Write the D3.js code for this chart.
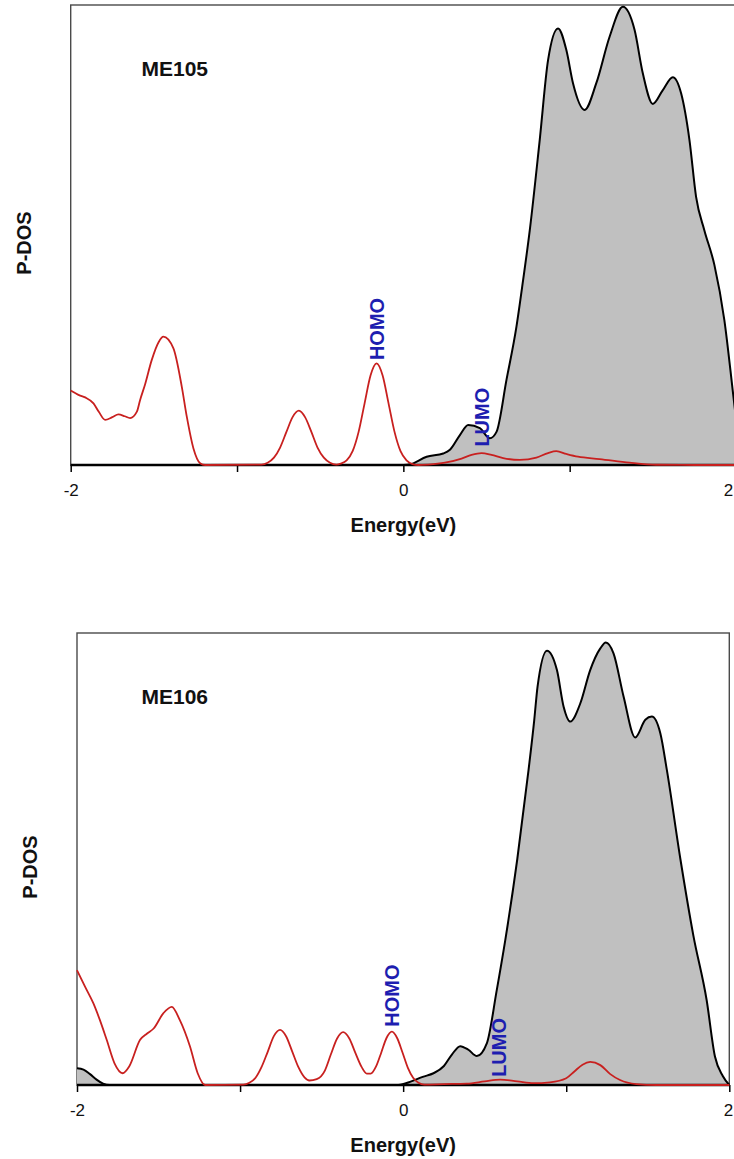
<!DOCTYPE html>
<html><head><meta charset="utf-8">
<script src="https://cdn.jsdelivr.net/npm/d3@7"></script>
<style>
body{margin:0;background:#fff}
svg{display:block}
text{font-family:"Liberation Sans",Arial,sans-serif}
</style>
</head><body>
<svg id="c" width="734" height="1159"></svg>
<script>
// ---------- data ----------
const xTicks = [-2, -1, 0, 1, 2];
const xTickLabels = ["-2", "", "0", "", "2"];
const xTitle = "Energy(eV)";
const yTitle = "P-DOS";
const panelNames = ["ME105", "ME106"];

// [energy (eV), P-DOS (arb.)]
const me105Total = [[0.00,0],[0.04,0.15],[0.14,1.8],[0.24,2.5],[0.28,3.3],[0.34,6.5],[0.39,8.7],[0.46,8.0],[0.52,5.8],[0.56,7.2],[0.62,18.5],[0.68,30.1],[0.72,40.2],[0.76,51],[0.82,70.7],[0.87,88],[0.93,94.9],[0.98,90.2],[1.02,83.0],[1.09,77.2],[1.16,83.0],[1.24,93.1],[1.32,99.6],[1.39,94.6],[1.44,85.1],[1.50,78.5],[1.56,81.5],[1.62,84.3],[1.67,80.8],[1.72,70.7],[1.76,58.3],[1.81,51],[1.87,43.5],[1.93,31.5],[1.98,16.3],[2.0,10]];

const me105Proj = [[-2.0,16.2],[-1.95,15.2],[-1.913,14.7],[-1.863,13.4],[-1.83,11.5],[-1.793,9.8],[-1.75,10.4],[-1.713,11.0],[-1.675,10.6],[-1.643,10.2],[-1.602,11.6],[-1.583,14.1],[-1.553,17.5],[-1.513,22.8],[-1.47,26.8],[-1.443,27.9],[-1.383,25.4],[-1.332,17.0],[-1.302,10.5],[-1.262,3.6],[-1.222,0.4],[-1.192,0],[-0.853,0.1],[-0.816,0.5],[-0.778,1.6],[-0.741,3.8],[-0.703,7.2],[-0.666,10.4],[-0.628,11.8],[-0.591,10.4],[-0.553,7.2],[-0.516,3.8],[-0.478,1.6],[-0.441,0.5],[-0.403,0.1],[-0.377,0.3],[-0.341,1.0],[-0.305,3.0],[-0.269,7.2],[-0.233,13.4],[-0.197,19.5],[-0.161,22.1],[-0.125,19.5],[-0.089,13.4],[-0.053,7.2],[-0.017,3.0],[0.019,1.0],[0.055,0.2],[0.09,0],[0.15,0.1],[0.25,0.5],[0.35,1.4],[0.41,2.2],[0.47,2.6],[0.53,2.2],[0.60,1.5],[0.70,1.1],[0.80,1.6],[0.87,2.6],[0.92,3.0],[0.98,2.4],[1.05,1.8],[1.18,1.3],[1.36,0.5],[1.52,0.05],[1.75,0],[2.0,0]];

const me106Total = [[-2.0,3.7],[-1.96,3.4],[-1.92,2.4],[-1.88,1.2],[-1.84,0.3],[-1.80,0],[-0.03,0],[0.05,0.8],[0.12,1.8],[0.186,2.6],[0.25,4.2],[0.30,6.8],[0.35,8.6],[0.40,7.8],[0.452,6.4],[0.513,9.2],[0.574,21],[0.626,32],[0.70,50],[0.769,69.7],[0.804,80.8],[0.824,88.1],[0.882,96.1],[0.943,91.8],[0.984,83.7],[1.025,80.4],[1.086,84.4],[1.147,91.8],[1.209,96.6],[1.243,97.9],[1.29,95.5],[1.352,85.9],[1.423,76.9],[1.485,80.8],[1.525,81.5],[1.577,77.8],[1.617,69.7],[1.70,50],[1.78,33],[1.861,18.8],[1.912,6.3],[1.96,2.0],[2.0,0]];

const me106Proj = [[-2.0,25.4],[-1.95,21.7],[-1.9,18.1],[-1.86,14.4],[-1.818,10.0],[-1.77,4.8],[-1.72,2.6],[-1.68,4.1],[-1.613,10.0],[-1.57,11.4],[-1.53,12.5],[-1.47,15.9],[-1.419,17.3],[-1.37,14.4],[-1.307,8.5],[-1.26,2.6],[-1.215,0],[-0.98,0.1],[-0.943,0.5],[-0.905,1.6],[-0.868,4.0],[-0.83,7.4],[-0.793,10.8],[-0.755,12.2],[-0.718,10.8],[-0.68,7.4],[-0.643,4.0],[-0.605,1.7],[-0.575,1.0],[-0.53,1.3],[-0.48,3.2],[-0.443,6.8],[-0.405,10.3],[-0.368,11.7],[-0.33,10.3],[-0.293,7.1],[-0.255,4.0],[-0.223,2.5],[-0.199,2.5],[-0.166,4.1],[-0.134,7.2],[-0.102,10.4],[-0.069,11.8],[-0.037,10.4],[-0.004,7.2],[0.029,3.8],[0.061,1.6],[0.094,0.5],[0.13,0.1],[0.25,0.2],[0.39,0.3],[0.50,0.8],[0.595,1.2],[0.70,0.8],[0.80,0.4],[0.90,0.6],[1.0,1.5],[1.05,3.0],[1.10,4.5],[1.147,5.1],[1.209,4.4],[1.27,2.4],[1.33,1.1],[1.43,0.2],[1.55,0],[2.0,0]];

// marker labels: [energy, level]
const me105Homo = [-0.161, 22.8], me105Lumo = [0.471, 4.0];
const me106Homo = [-0.069, 12.9], me106Lumo = [0.585, 1.8];

// ---------- drawing ----------
const W = 734;
const svg = d3.select("#c");
const panels = [
  {name: panelNames[0], total: me105Total, proj: me105Proj, homo: me105Homo, lumo: me105Lumo,
   box: {l: 70.7, r: 736, t: 5, b: 465}},
  {name: panelNames[1], total: me106Total, proj: me106Proj, homo: me106Homo, lumo: me106Lumo,
   box: {l: 77, r: 729.3, t: 633, b: 1085}}
];

panels.forEach(p => {
  const B = p.box;
  const x = d3.scaleLinear().domain([-2, 2]).range([B.l, B.r]);
  const y = d3.scaleLinear().domain([0, 100]).range([B.b, B.t]);
  const g = svg.append("g");

  // frame
  g.append("rect").attr("x", B.l).attr("y", B.t)
    .attr("width", B.r - B.l).attr("height", B.b - B.t)
    .attr("fill", "none").attr("stroke", "#4a4a4a").attr("stroke-width", 1.4);

  // total DOS filled
  const area = d3.area().x(d => x(d[0])).y0(y(0)).y1(d => y(d[1])).curve(d3.curveMonotoneX);
  g.append("path").datum(p.total).attr("d", area).attr("fill", "#c0c0c0");

  // x axis
  const ax = d3.axisBottom(x).tickValues(xTicks)
    .tickFormat((d, i) => xTickLabels[i]).tickSize(7).tickSizeOuter(0);
  const axg = g.append("g").attr("transform", `translate(0,${B.b})`).call(ax);
  axg.select(".domain").remove();
  axg.selectAll(".tick line").attr("stroke", "#000").attr("stroke-width", 1.5);
  axg.selectAll(".tick text").attr("y", 31).attr("dy", null)
    .attr("font-size", 17).attr("fill", "#111")
    .style("font-family", '"Liberation Sans",Arial,sans-serif')
    // keep a label that would fall past the page edge inside it
    .attr("x", d => Math.min(0, (W - 6) - x(d)));
  g.append("line").attr("x1", B.l).attr("x2", B.r).attr("y1", B.b).attr("y2", B.b)
    .attr("stroke", "#000").attr("stroke-width", 2.6);

  // total DOS outline
  const line = d3.line().x(d => x(d[0])).y(d => y(d[1])).curve(d3.curveMonotoneX);
  g.append("path").datum(p.total).attr("d", line)
    .attr("fill", "none").attr("stroke", "#000").attr("stroke-width", 2);

  // projected DOS
  g.append("path").datum(p.proj).attr("d", line)
    .attr("fill", "none").attr("stroke", "#c8201f").attr("stroke-width", 1.8);

  // panel name
  g.append("text").attr("x", 141.5).attr("y", B.t + 71)
    .attr("font-size", 21).attr("font-weight", "bold").attr("fill", "#111")
    .text(p.name);

  // x title
  g.append("text").attr("x", x(0)).attr("y", B.b + 67)
    .attr("text-anchor", "middle").attr("font-size", 20).attr("font-weight", "bold").attr("fill", "#111")
    .text(xTitle);

  // y title
  const cy = (B.t + B.b) / 2 + 8, cx = B.l - 47;
  g.append("text").attr("transform", `translate(${cx},${cy}) rotate(-90)`)
    .attr("text-anchor", "middle").attr("dy", "0.36em")
    .attr("font-size", 20).attr("font-weight", "bold").attr("fill", "#111")
    .text(yTitle);

  // HOMO / LUMO labels
  [["HOMO", p.homo], ["LUMO", p.lumo]].forEach(([t, v]) => {
    g.append("text").attr("transform", `translate(${x(v[0])},${y(v[1])}) rotate(-90)`)
      .attr("text-anchor", "start").attr("dy", "0.36em")
      .attr("font-size", 20).attr("font-weight", "bold").attr("fill", "#1e1eb0")
      .text(t);
  });
});
</script>
</body></html>
